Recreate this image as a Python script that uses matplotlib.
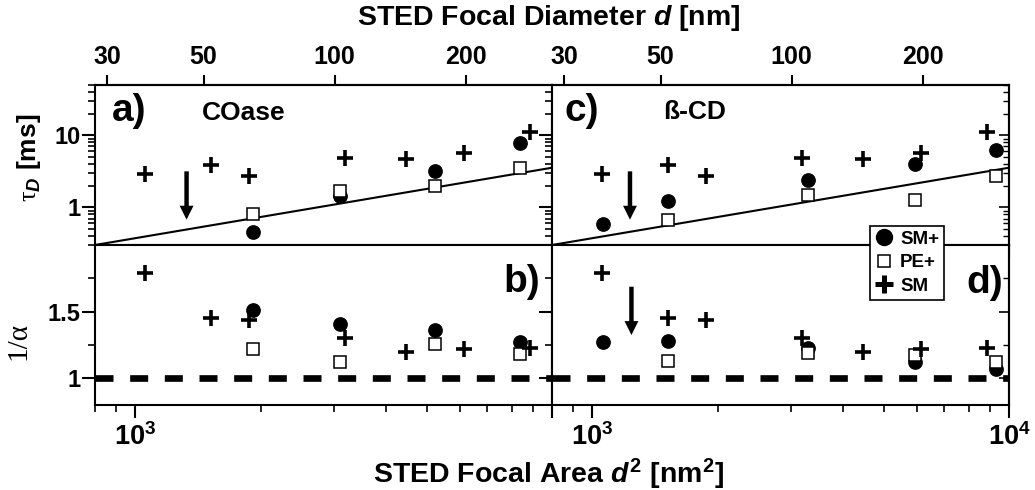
import numpy as np
import matplotlib
matplotlib.use("Agg")
import matplotlib.pyplot as plt
from matplotlib.ticker import FixedLocator, NullFormatter, NullLocator, FuncFormatter, LogLocator
from matplotlib.lines import Line2D
from matplotlib.patches import ArrowStyle

plt.rcParams["font.family"] = ["Liberation Sans", "DejaVu Sans"]
plt.rcParams["font.weight"] = "bold"
plt.rcParams["axes.labelweight"] = "bold"
plt.rcParams["mathtext.fontset"] = "custom"
plt.rcParams["mathtext.rm"] = "Liberation Sans:bold"
plt.rcParams["mathtext.bf"] = "Liberation Sans:bold"
plt.rcParams["mathtext.it"] = "Liberation Sans:italic:bold"
plt.rcParams["mathtext.sf"] = "Liberation Serif:normal"
plt.rcParams["axes.linewidth"] = 1.5

# ---- data -------------------------------------------------------------
# SM reference (same in both columns)
sm_area = [1055, 1516, 1875, 3193, 4455, 6149, 8838]
sm_tau = [2.91, 3.83, 2.70, 4.85, 4.70, 5.70, 11.1]
sm_inv_alpha = [1.79, 1.45, 1.44, 1.30, 1.20, 1.22, 1.225]

# COase treated samples
coase_area = [1911, 3094, 5230, 8363]
coase_smp_tau = [0.455, 1.42, 3.23, 7.84]
coase_pep_tau = [0.818, 1.67, 1.96, 3.53]
coase_smp_inv_alpha = [1.51, 1.41, 1.36, 1.27]
coase_pep_inv_alpha = [1.22, 1.12, 1.26, 1.18]

# beta-CD treated samples
bcd_smp_area = [1062, 1521, 3294, 5936, 9322]
bcd_smp_tau = [0.594, 1.21, 2.37, 4.04, 6.19]
bcd_smp_inv_alpha = [1.27, 1.28, 1.225, 1.125, 1.07]
bcd_pep_area = [1521, 3294, 5936, 9322]
bcd_pep_tau = [0.675, 1.47, 1.25, 2.70]
bcd_pep_inv_alpha = [1.13, 1.188, 1.175, 1.125]

# free-diffusion line (tau proportional to area)
fit_area = [800, 10000]
fit_tau = [0.3, 3.55]

# arrows marking the smallest focal spot of the SM reference
arrow_ac_area = [1327, 1231]
arrow_tau = [3.16, 0.675]
arrow_d_area = 1241
arrow_inv_alpha = [1.687, 1.325]

series_labels = ["SM+", "PE+", "SM"]
d_ticks = [30, 50, 100, 200]
area_lim = (800, 10000)
tau_lim = (0.3, 50)
inv_alpha_lim = (0.8, 2.0)


# focal diameter <-> focal area mapping used for the top axis
def area_to_d(a):
    a = np.clip(np.asarray(a, dtype=float), 1e-9, None)
    return (a / 24.45) ** (1 / 1.045)


def d_to_area(d):
    d = np.clip(np.asarray(d, dtype=float), 1e-9, None)
    return 24.45 * d ** 1.045


# ---- layout -------------------------------------------------------------
fig = plt.figure(figsize=(10.35, 4.9), dpi=100)
W, H = 457 / 1035, 160 / 490
xl, xr = 95 / 1035, 552 / 1035
axA = fig.add_axes([xl, 0.5, W, H])
axC = fig.add_axes([xr, 0.5, W, H])
axB = fig.add_axes([xl, 85 / 490, W, H])
axD = fig.add_axes([xr, 85 / 490, W, H])

circ = dict(ls="none", marker="o", ms=9.6, mfc="k", mec="k", zorder=3)
sq = dict(ls="none", marker="s", ms=8.8, mfc="white", mec="k", mew=1.1, zorder=4)
plus = dict(ls="none", marker="+", ms=11, mec="k", mew=2.6, zorder=5)
arrow_style = ArrowStyle.Simple(head_length=1.0, head_width=1.0, tail_width=0.32)


def draw_arrow(ax, x, y0, y1):
    ax.annotate("", xy=(x, y1), xytext=(x, y0),
                arrowprops=dict(arrowstyle=arrow_style, mutation_scale=10,
                                fc="k", ec="none", shrinkA=0, shrinkB=0))


def plain(v, p):
    return f"{v:g}"


# top row: diffusion time
for ax, a_smp, t_smp, a_pep, t_pep in (
        (axA, coase_area, coase_smp_tau, coase_area, coase_pep_tau),
        (axC, bcd_smp_area, bcd_smp_tau, bcd_pep_area, bcd_pep_tau)):
    ax.set_xscale("log")
    ax.set_yscale("log")
    ax.set_xlim(*area_lim)
    ax.set_ylim(*tau_lim)
    ax.plot(fit_area, fit_tau, "k-", lw=1.5, zorder=2)
    ax.plot(a_smp, t_smp, **circ)
    ax.plot(a_pep, t_pep, **sq)
    ax.plot(sm_area, sm_tau, **plus)
    ax.yaxis.set_major_locator(FixedLocator([1, 10]))
    ax.yaxis.set_minor_locator(LogLocator(subs=np.arange(2, 10)))
    ax.yaxis.set_minor_formatter(NullFormatter())
    ax.yaxis.set_major_formatter(FuncFormatter(plain))
    ax.xaxis.set_major_locator(FixedLocator([1000, 10000]))
    ax.xaxis.set_minor_locator(LogLocator(subs=np.arange(2, 10)))
    ax.tick_params(axis="x", which="major", direction="out", length=9.4, width=1.5,
                   bottom=True, top=False, labelbottom=False)
    ax.tick_params(axis="x", which="minor", direction="out", length=4.5, width=1.2,
                   bottom=True, top=False)
    sec = ax.secondary_xaxis("top", functions=(area_to_d, d_to_area))
    sec.xaxis.set_major_locator(FixedLocator(d_ticks))
    sec.xaxis.set_minor_locator(NullLocator())
    sec.xaxis.set_major_formatter(FuncFormatter(plain))
    sec.tick_params(axis="x", direction="out", length=7.5, width=1.5,
                    labelsize=18, pad=4)
    sec.spines["top"].set_linewidth(1.5)

# bottom row: anomaly parameter
for ax, a_smp, s_smp, a_pep, s_pep in (
        (axB, coase_area, coase_smp_inv_alpha, coase_area, coase_pep_inv_alpha),
        (axD, bcd_smp_area, bcd_smp_inv_alpha, bcd_pep_area, bcd_pep_inv_alpha)):
    ax.set_xscale("log")
    ax.set_xlim(*area_lim)
    ax.set_ylim(*inv_alpha_lim)
    ax.axhline(1, color="k", lw=4.8, ls=(0, (2.7, 2.5)), dash_capstyle="butt", zorder=1)
    ax.plot(a_smp, s_smp, **circ)
    ax.plot(a_pep, s_pep, **sq)
    ax.plot(sm_area, sm_inv_alpha, **plus)
    ax.yaxis.set_major_locator(FixedLocator([1, 1.5]))
    ax.yaxis.set_minor_locator(FixedLocator([1.25, 1.75]))
    ax.yaxis.set_major_formatter(FuncFormatter(plain))
    ax.xaxis.set_major_locator(FixedLocator([1000, 10000]))
    ax.xaxis.set_minor_locator(LogLocator(subs=np.arange(2, 10)))
    ax.xaxis.set_minor_formatter(NullFormatter())
    ax.tick_params(axis="x", which="major", direction="out", length=9.4, width=1.5,
                   top=False, labelsize=19.5, pad=4)
    ax.tick_params(axis="x", which="minor", direction="out", length=5, width=1.2, top=False)

axB.xaxis.set_major_formatter(FuncFormatter(
    lambda v, p: r"$\mathrm{10^{3}}$" if abs(v - 1000) < 1 else ""))
axD.xaxis.set_major_formatter(FuncFormatter(
    lambda v, p: r"$\mathrm{10^{%d}}$" % int(round(np.log10(v)))))

# y tick styling: left side outward, right column gets inward ticks on its right edge
for ax in (axA, axB, axC, axD):
    ax.tick_params(axis="y", which="major", direction="out", length=9.4, width=1.5,
                   right=False, labelsize=17, pad=1)
    ax.tick_params(axis="y", which="minor", direction="out", length=5, width=1.2, right=False)
for ax in (axC, axD):
    ax.tick_params(axis="y", which="both", labelleft=False)
    rs = ax.secondary_yaxis("right", functions=(lambda v: v, lambda v: v))
    rs.yaxis.set_major_locator(ax.yaxis.get_major_locator())
    rs.yaxis.set_minor_locator(ax.yaxis.get_minor_locator())
    rs.yaxis.set_major_formatter(NullFormatter())
    rs.yaxis.set_minor_formatter(NullFormatter())
    rs.tick_params(axis="y", which="major", direction="in", length=7, width=1.2)
    rs.tick_params(axis="y", which="minor", direction="in", length=4, width=1)

# arrows
draw_arrow(axA, arrow_ac_area[0], arrow_tau[0], arrow_tau[1])
draw_arrow(axC, arrow_ac_area[1], arrow_tau[0], arrow_tau[1])
draw_arrow(axD, arrow_d_area, arrow_inv_alpha[0], arrow_inv_alpha[1])

# panel annotations
axA.text(0.0365, 0.84, "a)", transform=axA.transAxes, fontsize=28, va="center", ha="left")
axA.text(0.2335, 0.823, "COase", transform=axA.transAxes, fontsize=19, va="center", ha="left")
axC.text(0.028, 0.84, "c)", transform=axC.transAxes, fontsize=28, va="center", ha="left")
axC.text(0.2436, 0.83, "ß-CD", transform=axC.transAxes, fontsize=19, va="center", ha="left")
axB.text(0.974, 0.77, "b)", transform=axB.transAxes, fontsize=28, va="center", ha="right")
axD.text(0.9875, 0.76, "d)", transform=axD.transAxes, fontsize=28, va="center", ha="right")

# axis labels
axA.set_ylabel(r"$\mathsf{τ}_{\mathit{D}}$ [ms]", fontsize=19, fontweight="bold")
axA.yaxis.set_label_coords(-0.114, 0.544)
axB.set_ylabel("1/α", fontsize=21, fontfamily="Liberation Serif", fontweight="normal")
axB.yaxis.set_label_coords(-0.138, 0.40)
fig.text(0.530, 0.963, r"STED Focal Diameter $\mathit{d}$ [nm]", fontsize=20.5,
         ha="center", va="center")
fig.text(0.530, 0.0327, r"STED Focal Area $\mathit{d}^{\mathrm{2}}$ [nm$^{\mathrm{2}}$]",
         fontsize=20.5, ha="center", va="center")

# legend
handles = [
    Line2D([], [], ls="none", marker="o", ms=11.5, mfc="k", mec="k"),
    Line2D([], [], ls="none", marker="s", ms=8.5, mfc="white", mec="k", mew=1.1),
    Line2D([], [], ls="none", marker="+", ms=13, mec="k", mew=3.6),
]
leg = fig.legend(handles, series_labels, loc="upper left",
                 bbox_to_anchor=(870 / 1035, 1 - 225.7 / 490), frameon=True,
                 fancybox=False, edgecolor="k", framealpha=1, fontsize=13.5,
                 borderpad=0.25, labelspacing=0.35, handlelength=1.0,
                 handletextpad=0.35, borderaxespad=0)
leg.get_frame().set_linewidth(1.2)
leg.set_zorder(10)

fig.savefig("out.png", dpi=100)
